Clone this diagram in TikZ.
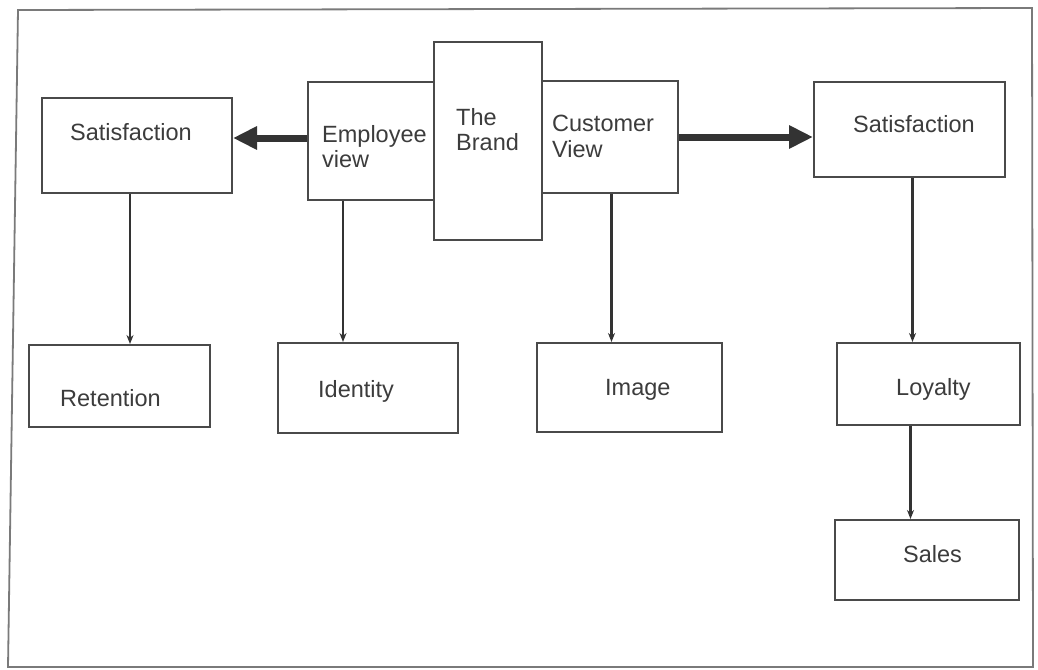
\documentclass[tikz,border=0pt]{standalone}
\usepackage{fontspec}
\setmainfont{Liberation Sans}
\usetikzlibrary{arrows.meta}
\definecolor{boxc}{HTML}{4A4A4A}
\definecolor{txtc}{HTML}{3C3C3C}
\definecolor{arrc}{HTML}{333333}
\definecolor{framec}{HTML}{7A7A7A}
\begin{document}
\begin{tikzpicture}[x=1pt,y=-1pt,
  box/.style={draw=boxc, line width=2pt, inner sep=0pt},
  lbl/.style={text=txtc, font=\fontsize{23.5}{25.5}\selectfont, inner sep=0pt, align=left},
  thickarr/.style={draw=arrc, line width=7pt, -{Triangle[length=24pt,width=22pt]}},
  thinarr/.style={draw=arrc, line width=2.2pt, -{Stealth[length=9pt,width=7pt]}}]
\useasboundingbox (0,0) rectangle (1038,669);
\fill[white] (0,0) rectangle (1038,669);
% outer frame
\draw[framec, line width=1.8pt] (18,10) -- (1032,8) -- (1033,667) -- (8,667) -- cycle;

% boxes
\node[box, minimum width=190pt, minimum height=95pt]  (satL)  at (137,145.5) {};
\node[box, minimum width=126pt, minimum height=118pt] (emp)   at (371,141) {};
\node[box, minimum width=108pt, minimum height=198pt] (brand) at (488,141) {};
\node[box, minimum width=136pt, minimum height=112pt] (cust)  at (610,137) {};
\node[box, minimum width=191pt, minimum height=95pt]  (satR)  at (909.5,129.5) {};
\node[box, minimum width=181pt, minimum height=82pt]  (ret)   at (119.5,386) {};
\node[box, minimum width=180pt, minimum height=90pt]  (ident) at (368,388) {};
\node[box, minimum width=185pt, minimum height=89pt]  (image) at (629.5,387.5) {};
\node[box, minimum width=183pt, minimum height=82pt]  (loyal) at (928.5,384) {};
\node[box, minimum width=184pt, minimum height=80pt]  (sales) at (927,560) {};

% texts
\node[lbl, anchor=base west] (tsatL) at (70,140) {Satisfaction};
\node[lbl, anchor=north west] (temp) at (322,125) {Employee\\view};
\node[lbl, anchor=north west] (tbrand) at (456,108) {The\\Brand};
\node[lbl, anchor=north west] (tcust) at (552,115) {Customer\\View};
\node[lbl, anchor=base west] (tsatR) at (853,132) {Satisfaction};
\node[lbl, anchor=base west] (tret) at (60,406) {Retention};
\node[lbl, anchor=base west] (tident) at (318,397) {Identity};
\node[lbl, anchor=base west] (timage) at (605,395) {Image};
\node[lbl, anchor=base west] (tloyal) at (896,395) {Loyalty};
\node[lbl, anchor=base west] (tsales) at (903,562) {Sales};

% thick arrows
\coordinate (ea) at ([yshift=3pt]emp.west);
\draw[thickarr] (ea) -- (satL.east |- ea);
\draw[thickarr] (cust.east) -- (satR.west |- cust.east);

% thin arrows
\coordinate (a1) at ([xshift=-7pt]satL.south);
\draw[thinarr] (a1) -- (ret.north -| a1);
\coordinate (a2) at ([xshift=-28pt]emp.south);
\draw[thinarr] (a2) -- (ident.north -| a2);
\coordinate (a3) at ([xshift=1.5pt]cust.south);
\draw[thinarr] (a3) -- (image.north -| a3);
\coordinate (a4) at ([xshift=3pt]satR.south);
\draw[thinarr] (a4) -- (loyal.north -| a4);
\coordinate (a5) at ([xshift=-18pt]loyal.south);
\draw[thinarr] (a5) -- (sales.north -| a5);
\end{tikzpicture}
\end{document}
